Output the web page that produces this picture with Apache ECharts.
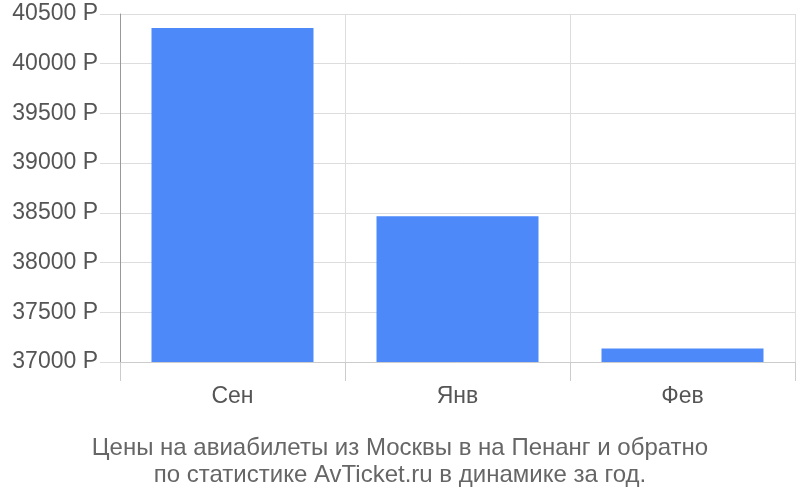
<!DOCTYPE html>
<html>
<head>
<meta charset="utf-8">
<script src="https://cdn.jsdelivr.net/npm/echarts@6/dist/echarts.min.js"></script>
<style>
  html, body { margin: 0; padding: 0; background: #fff; }
  #chart { width: 800px; height: 500px; }
</style>
</head>
<body>
<div id="chart"></div>
<script>
// данные графика
let months = ['Сен', 'Янв', 'Фев'];
let prices = [40360, 38465, 37135];
let titleLines = [
    'Цены на авиабилеты из Москвы в на Пенанг и обратно',
    'по статистике AvTicket.ru в динамике за год.'
];

let chart = echarts.init(document.getElementById('chart'));

let fontName = '"Liberation Sans", Arial, sans-serif';

let option = {
    animation: false,
    title: {
        text: titleLines.join('\n'),
        left: 'center',
        top: 430,
        textStyle: {
            fontFamily: fontName,
            fontSize: 24,
            fontWeight: 'normal',
            color: '#666',
            lineHeight: 27
        }
    },
    grid: { left: 120, right: 5, top: 14, bottom: 138 },
    xAxis: {
        type: 'category',
        data: months,
        axisLine: { lineStyle: { color: '#ccc' } },
        axisTick: { show: true, length: 19, lineStyle: { color: '#ccc' } },
        axisLabel: { fontFamily: fontName, fontSize: 23, color: '#555', margin: 23 },
        splitLine: { show: true, lineStyle: { color: '#ddd' } }
    },
    yAxis: {
        type: 'value',
        min: 37000,
        max: 40500,
        interval: 500,
        axisLine: { show: true, lineStyle: { color: '#999' } },
        axisTick: { show: true, length: 20, lineStyle: { color: '#ddd' } },
        axisLabel: {
            fontFamily: fontName, fontSize: 23, color: '#555', margin: 22,
            formatter: function(v) { return v + ' Р'; }
        },
        splitLine: { lineStyle: { color: '#ddd' } }
    },
    series: [{
        type: 'bar',
        data: prices,
        barWidth: '72%',
        itemStyle: { color: '#4d89f9' }
    }]
};

chart.setOption(option);
</script>
</body>
</html>
